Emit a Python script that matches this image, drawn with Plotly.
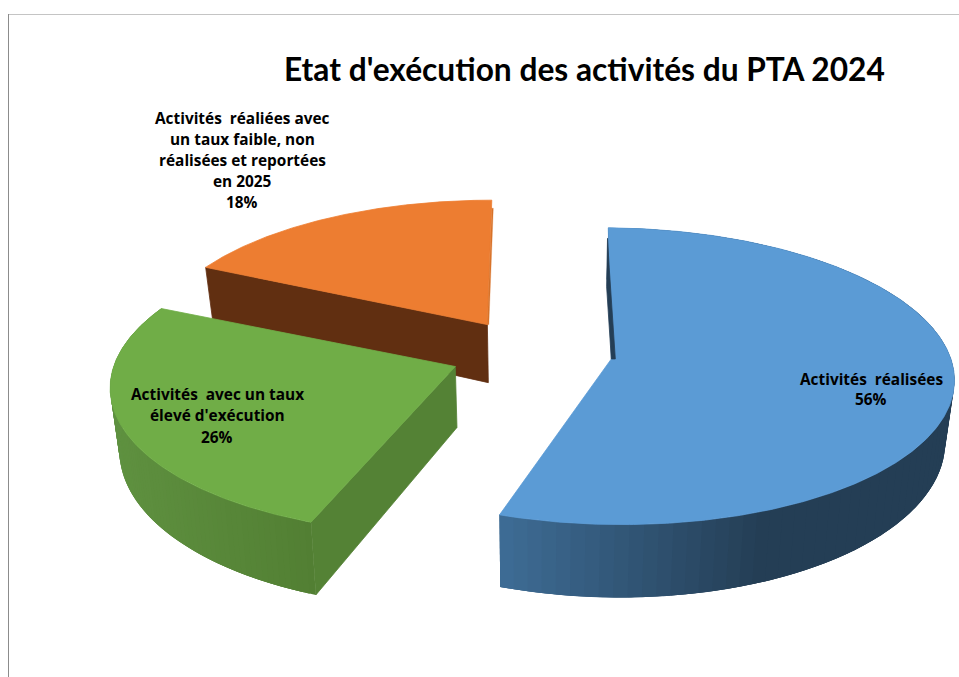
import numpy as np
import plotly.graph_objects as go

# ---- data
categories = ["Activités réalisées", "Activités avec un taux élevé d'exécution",
              "Activités réaliées avec un taux faible, non réalisées et reportées en 2025"]
values = [56, 26, 18]
title_text = "Etat d'exécution des activités du PTA 2024"
label_lines = [
    ["Activités  réalisées", "56%"],
    ["Activités  avec un taux", "élevé d'exécution", "26%"],
    ["Activités  réaliées avec", "un taux faible, non", "réalisées et reportées", "en 2025", "18%"],
]
label_centres = [(871, 379), (217, 394), (242, 118)]
label_pitch = [20.5, 21.5, 21.2]
top_colours = ["#5b9bd5", "#70ad47", "#ed7d31"]
rim_left = ["#3f6e98", "#5f9140", "#a0531c"]
rim_right = ["#243e55", "#527f33", "#a0531c"]
cut_colours = ["#243e55", "#548235", "#612f11"]

# ---- 3-D pie projection set-up (style, not data)
X0, Y0 = 531, 353
BX, AY, P = 338, 145, 0.1157
PULL = 0.24
H, Q = 60, 0.17
SHRINK = 0.978
START = -1.0
INSET = [(2.0, 2.0), (0.0, 0.0), (1.5, -1.0)]  # perspective distortion of the edges, degrees


def project(U, V, bottom=False):
    U, V = np.asarray(U, float), np.asarray(V, float)
    d = 1 + P * V
    x = X0 + BX * U / d
    y = Y0 - AY * V / d
    if bottom:
        x = X0 + (x - X0) * SHRINK
        y = y + H / (1 + Q * V)
    return x, y


fig = go.Figure()


def poly(x, y, colour, width=0.8):
    fig.add_trace(go.Scatter(
        x=list(x) + [x[0]], y=list(y) + [y[0]], mode="lines", fill="toself",
        fillcolor=colour, line=dict(color=colour, width=width),
        hoverinfo="skip", showlegend=False))


def mix(a, b, t):
    ca = [int(a[i:i + 2], 16) for i in (1, 3, 5)]
    cb = [int(b[i:i + 2], 16) for i in (1, 3, 5)]
    return "rgb(%d,%d,%d)" % tuple(round(p + (q - p) * t) for p, q in zip(ca, cb))


edges = START + np.concatenate([[0], np.cumsum(values)]) / sum(values) * 360
wedges = []
for i in range(len(values)):
    mid = np.radians((edges[i] + edges[i + 1]) / 2)
    a0 = np.radians(edges[i] + INSET[i][0])
    a1 = np.radians(edges[i + 1] - INSET[i][1])
    cu, cv = PULL * np.sin(mid), PULL * np.cos(mid)
    th = np.linspace(a0, a1, 361)
    wedges.append((th, cu, cv, cu + np.sin(th), cv + np.cos(th)))


def draw_wedge(i, show_cut):
    th, cu, cv, U, V = wedges[i]
    # outer rim, split into strips that overlap so no seams show
    if i != 2:
        tx, ty = project(U, V)
        bx, by = project(U, V, bottom=True)
        lo, hi = (497, 770) if i == 0 else (110, 315)
        step = 4
        n = len(th) - 1
        for k in range(0, n, step):
            e = min(k + 3 * step, n)
            if min(by[k], by[e]) < ty.min():
                continue
            t = np.clip((tx[k] - lo) / (hi - lo), 0, 1)
            idx = list(range(k, e + 1))
            poly(list(tx[idx]) + list(bx[idx][::-1]), list(ty[idx]) + list(by[idx][::-1]),
                 mix(rim_left[i], rim_right[i], t), width=0)
    # straight cut face towards the viewer
    if show_cut is not None:
        j = show_cut
        ex, ey = project([cu, U[j]], [cv, V[j]])
        fx, fy = project([cu, U[j]], [cv, V[j]], bottom=True)
        poly([ex[0], ex[1], fx[1], fx[0]], [ey[0], ey[1], fy[1], fy[0]], cut_colours[i])
    # top face
    x, y = project(np.r_[cu, U], np.r_[cv, V])
    poly(x, y, top_colours[i])


draw_wedge(2, 0)    # orange, brown cut on its first edge
draw_wedge(1, 0)    # green, cut on its first edge
draw_wedge(0, None)  # blue

# thin dark sliver along the start edge of the blue wedge
th, cu, cv, U, V = wedges[0]
sx, sy = project(U[0], V[0])
px, py = project(cu, cv)
along = lambda t: (sx + (px - sx) * t, sy + (py - sy) * t)
pts = [(0.08, -1), (0.45, -3), (1.0, 0), (1.0, 4), (0.3, 0)]
poly([along(t)[0] + dx for t, dx in pts], [along(t)[1] for t, dx in pts], cut_colours[0])

# thin darker edge on the orange wedge's far side
th, cu, cv, U, V = wedges[2]
sx, sy = project(U[-1], V[-1])
px, py = project(cu, cv)
poly([sx, px, px + 1.5, sx + 1.5], [sy + 8, py, py, sy + 8], "#d8742b", width=0.3)

annotations = [dict(x=584, y=69, xref="x", yref="y", text=title_text, showarrow=False,
                    font=dict(family="Lato", size=31.7, color="#000000", weight="bold"),
                    xanchor="center", yanchor="middle")]
for lines, (cx, cy), pitch in zip(label_lines, label_centres, label_pitch):
    for n, line in enumerate(lines):
        annotations.append(dict(x=cx, y=cy + n * pitch, xref="x", yref="y",
                                text=line.replace("  ", "&nbsp;&nbsp;"), showarrow=False,
                                font=dict(family="Open Sans", size=15.4, color="#000000", weight="bold"),
                                xanchor="center", yanchor="middle"))

fig.update_layout(
    width=959, height=677, margin=dict(l=0, r=0, t=0, b=0),
    paper_bgcolor="white", plot_bgcolor="white",
    xaxis=dict(range=[0, 959], visible=False, fixedrange=True),
    yaxis=dict(range=[677, 0], visible=False, fixedrange=True),
    annotations=annotations,
    shapes=[
        dict(type="line", xref="x", yref="y", x0=8, x1=959, y0=14.5, y1=14.5,
             line=dict(color="#c4c4c4", width=1)),
        dict(type="line", xref="x", yref="y", x0=8.5, x1=8.5, y0=14, y1=677,
             line=dict(color="#8c8c8c", width=1)),
    ],
)
fig.write_html("out.html", config=dict(displayModeBar=False),
               post_script="document.body.style.margin='0';document.documentElement.style.overflow='hidden';")
